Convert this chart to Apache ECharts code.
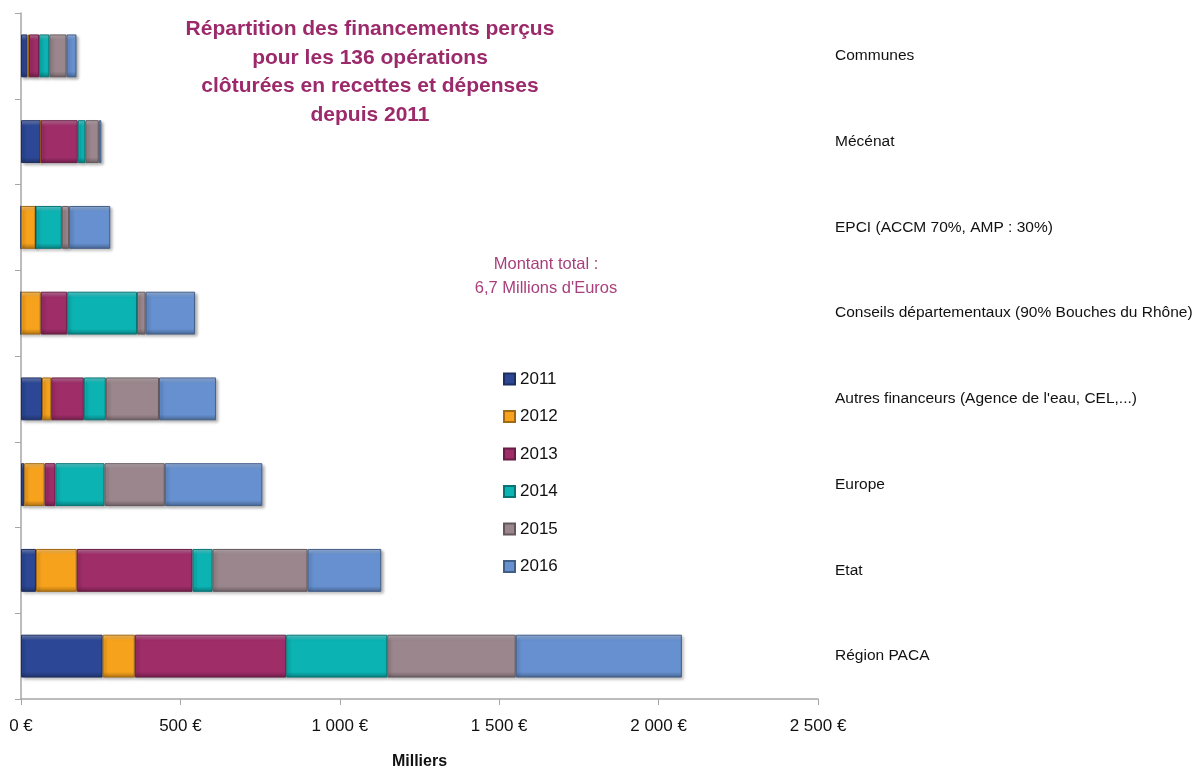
<!DOCTYPE html>
<html>
<head>
<meta charset="utf-8">
<script src="https://cdn.jsdelivr.net/npm/echarts@6/dist/echarts.min.js"></script>
<style>
  html, body {margin: 0; padding: 0; background: #fff;}
  #chart {width: 1200px; height: 769px;}
</style>
</head>
<body>
<div id="chart"></div>
<script>
// categories listed bottom to top (category axis starts at the bottom)
const categories = [
    'Région PACA',
    'Etat',
    'Europe',
    "Autres financeurs (Agence de l'eau, CEL,...)",
    'Conseils départementaux (90% Bouches du Rhône)',
    'EPCI (ACCM 70%, AMP : 30%)',
    'Mécénat',
    'Communes'
]
const years = ['2011', '2012', '2013', '2014', '2015', '2016']
// values in milliers d'euros, same order as categories
const v2011 = [256, 47, 10, 66, 0, 0, 62, 20]
const v2012 = [101, 128, 64, 29, 62, 46, 0, 5]
const v2013 = [475, 363, 34, 102, 83, 0, 116, 32]
const v2014 = [317, 63, 154, 69, 219, 82, 24, 32]
const v2015 = [403, 298, 189, 167, 27, 23, 42, 54]
const v2016 = [521, 231, 306, 179, 155, 129, 8, 31]
const seriesValues = [v2011, v2012, v2013, v2014, v2015, v2016]
const colors = ['#2c4795', '#f7a21c', '#9e2d68', '#0cb3b3', '#9a868c', '#6690cf']

const font = "'Liberation Sans', sans-serif"
const purple = '#9c2a6b'

function shade(hex, amt) {
    const n = parseInt(hex.slice(1), 16)
    let r = (n >> 16) & 255, g = (n >> 8) & 255, b = n & 255
    const f = c => Math.max(0, Math.min(255, Math.round(amt > 0 ? c + (255 - c) * amt : c * (1 + amt))))
    return 'rgb(' + f(r) + ',' + f(g) + ',' + f(b) + ')'
}

function bevel(c) {
    return new echarts.graphic.LinearGradient(0, 0, 0, 1, [
        {offset: 0, color: shade(c, 0.35)},
        {offset: 0.13, color: c},
        {offset: 0.87, color: c},
        {offset: 1, color: shade(c, -0.3)}
    ])
}

const fmt = v => String(v).replace(/\B(?=(\d{3})+(?!\d))/g, ' ') + ' €'

const myChart = echarts.init(document.getElementById('chart'))
myChart.setOption({
    animation: false,
    title: [
        {
            text: 'Répartition des financements perçus\npour les 136 opérations\nclôturées en recettes et dépenses\ndepuis 2011',
            left: 365,
            top: 10,
            textAlign: 'center',
            textStyle: {fontFamily: font, fontSize: 21, fontWeight: 'bold', color: purple, lineHeight: 28.5}
        },
        {
            text: "Montant total :\n6,7 Millions d'Euros",
            left: 541,
            top: 247,
            textAlign: 'center',
            textStyle: {fontFamily: font, fontSize: 16.5, fontWeight: 'normal', color: '#a83f7c', lineHeight: 24}
        }
    ],
    legend: {
        orient: 'vertical',
        left: 498,
        top: 365,
        itemWidth: 11,
        itemHeight: 11,
        itemGap: 19.5,
        icon: 'rect',
        textStyle: {fontFamily: font, fontSize: 17, color: '#111', lineHeight: 18},
        data: years
    },
    grid: {left: 21, right: 382, top: 13, bottom: 70, containLabel: false, outerBoundsMode: 'none'},
    xAxis: {
        type: 'value',
        min: 0,
        max: 2500,
        interval: 500,
        name: 'Milliers',
        nameLocation: 'middle',
        nameGap: 55,
        nameTextStyle: {fontFamily: font, fontSize: 16, fontWeight: 'bold', color: '#111'},
        axisLine: {show: true, lineStyle: {color: '#a6a6a6', width: 1.5}},
        axisTick: {show: true, length: 6, lineStyle: {color: '#a6a6a6'}},
        splitLine: {show: false},
        axisLabel: {fontFamily: font, fontSize: 17, color: '#111', margin: 19, formatter: fmt}
    },
    yAxis: [
        {
            type: 'category',
            data: categories,
            position: 'left',
            axisLine: {show: true, lineStyle: {color: '#a6a6a6', width: 1.5}},
            axisTick: {show: true, length: 6, lineStyle: {color: '#a6a6a6'}},
            axisLabel: {show: false}
        },
        {
            type: 'category',
            data: categories,
            position: 'right',
            axisLine: {show: false},
            axisTick: {show: false},
            axisLabel: {fontFamily: font, fontSize: 15.5, color: '#111', margin: 17, align: 'left'}
        }
    ],
    series: years.map((y, i) => ({
        name: y,
        type: 'bar',
        stack: 'total',
        barWidth: '50%',
        data: seriesValues[i],
        itemStyle: {
            color: bevel(colors[i]),
            borderColor: shade(colors[i], -0.35),
            borderWidth: 1,
            shadowColor: 'rgba(0,0,0,0.3)',
            shadowBlur: 3,
            shadowOffsetX: 2,
            shadowOffsetY: 2
        }
    })),
    color: colors
})
</script>
</body>
</html>
